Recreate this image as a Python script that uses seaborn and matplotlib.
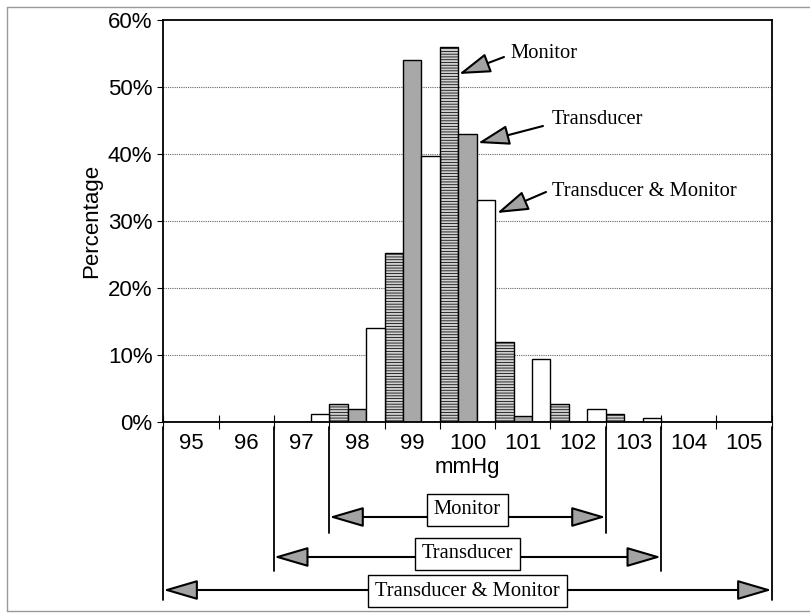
import matplotlib
matplotlib.use('Agg')
import matplotlib.pyplot as plt
import matplotlib.transforms as mtransforms
from matplotlib.ticker import FuncFormatter
from matplotlib.lines import Line2D
import numpy as np
import pandas as pd
import seaborn as sns

# ---------------- data ----------------
categories = ['95', '96', '97', '98', '99', '100', '101', '102', '103', '104', '105']
monitor = [0, 0, 0, 2.7, 25.3, 56.0, 12.0, 2.7, 1.3, 0, 0]
transducer = [0, 0, 0, 2.0, 54.0, 43.0, 1.0, 0, 0, 0, 0]
trans_monitor = [0, 0, 1.2, 14.0, 39.7, 33.1, 9.4, 2.0, 0.6, 0, 0]
series_names = ['Monitor', 'Transducer', 'Transducer & Monitor']
yticks = [0, 10, 20, 30, 40, 50, 60]

# error ranges shown under the axis (mmHg)
range_labels = ['Monitor', 'Transducer', 'Transducer & Monitor']
range_lo = [97.5, 96.5, 94.5]
range_hi = [102.5, 103.5, 105.5]

df = pd.DataFrame({
    'mmHg': categories * 3,
    'series': [series_names[0]] * 11 + [series_names[1]] * 11 + [series_names[2]] * 11,
    'pct': monitor + transducer + trans_monitor,
})

# ---------------- style ----------------
sns.set_theme(style='white')
plt.rcParams['font.family'] = ['Liberation Sans', 'DejaVu Sans']
plt.rcParams['hatch.linewidth'] = 0.55
serif = ['Liberation Serif', 'DejaVu Serif']

W, H = 810, 613
fig = plt.figure(figsize=(W / 100, H / 100), dpi=100)
fig.patch.set_facecolor('white')

ax_l, ax_r, ax_t, ax_b = 163.3, 771.7, 19.8, 422.3
ax = fig.add_axes([ax_l / W, 1 - ax_b / H, (ax_r - ax_l) / W, (ax_b - ax_t) / H])

palette = {'Monitor': '#cfcfcf', 'Transducer': '#a8a8a8', 'Transducer & Monitor': 'white'}
sns.barplot(data=df, x='mmHg', y='pct', hue='series', order=categories,
            hue_order=series_names, palette=palette, width=1.0, gap=0,
            edgecolor='black', linewidth=1.0, saturation=1, legend=False, ax=ax)

for bar in ax.containers[0]:
    bar.set_hatch('------')

ax.set_xlim(-0.5, 10.5)
ax.set_ylim(0, 60)

# grid
ax.set_axisbelow(True)
for v in yticks[1:-1]:
    ax.axhline(v, color='#666666', lw=0.8, ls=(0, (1, 1)), zorder=0)

# ticks
ax.set_yticks(yticks)
ax.yaxis.set_major_formatter(FuncFormatter(lambda v, p: f'{v:.0f}%'))
ax.tick_params(axis='y', direction='out', length=4.3, width=0.8, labelsize=16, pad=3.5, colors='black', left=True)
ax.set_xticks(np.arange(-0.5, 11, 1))
ax.set_xticklabels([''] * 12)
ax.set_xticks(np.arange(11), minor=True)
ax.set_xticklabels(categories, minor=True)
ax.tick_params(axis='x', which='major', direction='inout', length=10, width=0.8, bottom=True, colors='black')
ax.tick_params(axis='x', which='minor', length=0, labelsize=16, pad=8, bottom=True, labelcolor='black')

ax.set_xlabel('mmHg', fontsize=16, labelpad=2, color='black')
ax.set_ylabel('Percentage', fontsize=16, labelpad=4, color='black')

for s in ax.spines.values():
    s.set_visible(True)
    s.set_color('black')
    s.set_linewidth(1.3)

# ---------------- callouts (top right) ----------------
def dx(px):
    return (px - ax_l) / ((ax_r - ax_l) / 11) - 0.5

def dy(py):
    return (ax_b - py) / (ax_b - ax_t) * 60

callouts = [
    ('Monitor', (459, 74), (504, 57), (510, 54)),
    ('Transducer', (478, 143), (543, 126), (552, 120)),
    ('Transducer & Monitor', (497, 213), (546, 192), (552, 191)),
]
for label, tip, start, tpos in callouts:
    ax.annotate('', xy=(dx(tip[0]), dy(tip[1])), xytext=(dx(start[0]), dy(start[1])),
                arrowprops=dict(arrowstyle='-|>,head_length=1.95,head_width=0.62',
                                mutation_scale=10, fc='#a3a3a3', ec='black', lw=1.5,
                                shrinkA=0, shrinkB=0), annotation_clip=False, zorder=6)
    ax.text(dx(tpos[0]), dy(tpos[1]), label, ha='left', va='center', fontsize=14.8,
            family=serif, color='black', zorder=6)

# ---------------- ranges under the axis ----------------
blend = mtransforms.blended_transform_factory(ax.transData, ax.transAxes)

def fy(py):
    return (ax_b - py) / (ax_b - ax_t)

arrow_y = [517, 557, 590]
box_y = [510, 554, 591]
line_bottom = [533, 571, 600]
for lab, lo, hi, ay, by, lb in zip(range_labels, range_lo, range_hi, arrow_y, box_y, line_bottom):
    p0 = lo - 95
    p1 = hi - 95
    for p in (p0, p1):
        ax.add_line(Line2D([p, p], [fy(427), fy(lb)], transform=blend, color='black',
                           lw=1.3, clip_on=False))
    ax.annotate('', xy=(p1, fy(ay)), xytext=(p0, fy(ay)), xycoords=blend, textcoords=blend,
                arrowprops=dict(arrowstyle='<|-|>,head_length=2.15,head_width=0.63',
                                mutation_scale=10, fc='#a3a3a3', ec='black', lw=1.5,
                                shrinkA=0, shrinkB=0), annotation_clip=False)
    ax.text((p0 + p1) / 2, fy(by), lab, transform=blend, ha='center', va='center',
            fontsize=14.8, family=serif, color='black', zorder=7, clip_on=False,
            bbox=dict(boxstyle='square,pad=0.33', fc='white', ec='black', lw=1.0))

# scanned page frame
for xs, ys in [([7, 810], [7, 7]), ([7, 7], [7, 611]), ([7, 810], [611, 611])]:
    fig.add_artist(Line2D([x / W for x in xs], [1 - y / H for y in ys],
                          color='#999999', lw=1.0, transform=fig.transFigure))

fig.savefig('out.png', dpi=100, facecolor='white')
